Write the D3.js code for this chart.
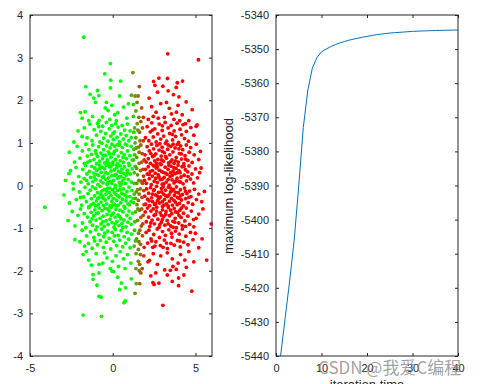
<!DOCTYPE html>
<html>
<head>
<meta charset="utf-8">
<script src="https://cdn.jsdelivr.net/npm/d3@7"></script>
<style>
  body { margin: 0; background: #fff; }
  text { font-family: "Liberation Sans", Arial, sans-serif; }
</style>
</head>
<body>
<script>
"use strict"

/* punti del cluster verde, a coppie x,y */
const greenXY = [
  -1.75,3.48, -0.14,2.86, -0.48,2.62,
  -1.63,2.32, -0.12,2.47, -0.14,2.29, 0.48,2.45, 0.42,2.10, -1.37,2.14, -0.84,2.11, -0.92,2.23, -1.15,2.05,
  -1.04,1.95, -1.67,1.73, -1.95,1.71, -0.45,1.82, -0.28,1.76, -0.62,1.61, -0.18,1.55, 0.12,1.66, -0.82,1.53, -1.22,1.62,
  0.31,1.71, 0.65,1.84, -0.05,1.88, -1.45,1.52, 0.85,1.58, -0.38,1.95, 0.22,1.52, -1.85,1.58, 0.95,1.92,
  -2.35,1.02, -2.1,1.28, -1.72,1.35, -1.55,1.12, -1.38,1.44, -1.25,1.05, -1.12,1.31, -0.98,1.18, -0.91,1.46, -0.78,1.02,
  -0.72,1.27, -0.61,1.39, -0.55,1.11, -0.43,1.22, -0.38,1.48, -0.29,1.04, -0.21,1.33, -0.12,1.16, -0.05,1.41, 0.04,1.08,
  0.11,1.26, 0.18,1.45, 0.26,1.13, 0.33,1.37, 0.41,1.02, 0.49,1.21, 0.57,1.41, 0.64,1.09, 0.72,1.30, 0.81,1.17,
  0.89,1.44, 0.97,1.05, 1.05,1.28, 1.12,1.12, -1.85,1.15, -0.85,1.38, 0.02,1.22,
  -2.62,0.78, -2.31,0.55, -2.15,0.92, -1.98,0.64, -1.84,0.81, -1.71,0.52, -1.62,0.97, -1.53,0.69, -1.44,0.84, -1.36,0.58,
  -1.28,0.73, -1.21,0.95, -1.13,0.61, -1.05,0.82, -0.98,0.51, -0.92,0.68, -0.85,0.91, -0.79,0.57, -0.72,0.76, -0.66,0.99,
  -0.61,0.63, -0.55,0.84, -0.49,0.53, -0.44,0.71, -0.38,0.93, -0.33,0.6, -0.27,0.79, -0.22,0.52, -0.16,0.88, -0.11,0.66,
  -0.05,0.97, 0.01,0.55, 0.06,0.74, 0.12,0.92, 0.17,0.61, 0.23,0.83, 0.29,0.51, 0.34,0.69, 0.4,0.95, 0.46,0.58,
  0.52,0.77, 0.58,0.89, 0.64,0.54, 0.7,0.72, 0.77,0.97, 0.83,0.63, 0.9,0.81, 0.97,0.52, 1.04,0.7, 1.11,0.92,
  1.18,0.6, -0.58,0.7, -0.18,0.74, 0.28,0.96, -1.0,0.75, 0.62,0.66, -0.35,0.55, 0.1,0.8, -1.5,0.55, 0.85,0.95,
  -2.85,0.12, -2.55,0.35, -2.4,0.05, -2.22,0.42, -2.05,0.21, -1.92,0.08, -1.81,0.38, -1.73,0.16, -1.64,0.47, -1.56,0.27,
  -1.48,0.04, -1.41,0.33, -1.34,0.19, -1.27,0.45, -1.2,0.09, -1.14,0.29, -1.08,0.41, -1.02,0.14, -0.96,0.36, -0.9,0.02,
  -0.85,0.24, -0.8,0.48, -0.74,0.11, -0.69,0.31, -0.64,0.43, -0.59,0.06, -0.54,0.22, -0.49,0.39, -0.44,0.15, -0.39,0.47,
  -0.34,0.03, -0.3,0.28, -0.25,0.18, -0.2,0.44, -0.15,0.09, -0.1,0.34, -0.05,0.23, 0.0,0.49, 0.05,0.12, 0.1,0.37,
  0.15,0.01, 0.2,0.26, 0.25,0.42, 0.3,0.17, 0.35,0.33, 0.4,0.07, 0.45,0.46, 0.5,0.21, 0.55,0.38, 0.6,0.11,
  0.66,0.29, 0.71,0.44, 0.77,0.05, 0.82,0.24, 0.88,0.36, 0.94,0.14, 1.0,0.47, 1.06,0.27, 1.12,0.08, 1.18,0.39,
  -0.62,0.19, -0.12,0.44, 0.38,0.2, -0.95,0.26, 0.7,0.16, -0.42,0.3, 0.12,0.24, -1.58,0.12, -0.28,0.07, 0.56,0.04,
  -0.78,0.4, 0.9,0.3, -2.65,0.28, 0.22,0.48, -1.12,0.2, -0.05,0.05, 0.48,0.31,
  -4.1,-0.51, -2.95,-0.22, -2.62,-0.41, -2.38,-0.08, -2.2,-0.33, -2.02,-0.15, -1.88,-0.46, -1.77,-0.27, -1.68,-0.04, -1.59,-0.38,
  -1.5,-0.19, -1.43,-0.49, -1.36,-0.11, -1.29,-0.31, -1.22,-0.03, -1.16,-0.42, -1.1,-0.24, -1.04,-0.07, -0.98,-0.36, -0.92,-0.17,
  -0.87,-0.45, -0.82,-0.28, -0.76,-0.02, -0.71,-0.39, -0.66,-0.13, -0.61,-0.25, -0.56,-0.47, -0.51,-0.09, -0.46,-0.34, -0.41,-0.2,
  -0.36,-0.43, -0.31,-0.06, -0.26,-0.29, -0.21,-0.16, -0.16,-0.48, -0.11,-0.23, -0.06,-0.37, -0.01,-0.1, 0.04,-0.3, 0.09,-0.44,
  0.14,-0.05, 0.19,-0.21, 0.24,-0.35, 0.29,-0.12, 0.34,-0.46, 0.39,-0.27, 0.44,-0.01, 0.49,-0.4, 0.54,-0.18, 0.59,-0.32,
  0.64,-0.08, 0.69,-0.49, 0.74,-0.22, 0.8,-0.36, 0.86,-0.14, 0.92,-0.43, 0.98,-0.04, 1.04,-0.26, 1.1,-0.38, 1.16,-0.12,
  1.22,-0.31, -0.58,-0.3, -0.18,-0.06, 0.3,-0.24, -0.9,-0.3, 0.62,-0.2, -0.38,-0.12, 0.1,-0.16, -1.3,-0.45, -0.02,-0.46,
  0.45,-0.1, -0.72,-0.2, 0.85,-0.27, -1.95,-0.28, 0.2,-0.48, -1.05,-0.48, 1.0,-0.45,
  -2.7,-0.82, -2.45,-0.61, -2.28,-0.95, -2.1,-0.7, -1.95,-0.55, -1.83,-0.88, -1.72,-0.66, -1.62,-0.99, -1.53,-0.74, -1.45,-0.52,
  -1.37,-0.85, -1.3,-0.63, -1.22,-0.93, -1.15,-0.71, -1.08,-0.57, -1.01,-0.81, -0.95,-0.97, -0.88,-0.64, -0.82,-0.53, -0.76,-0.77,
  -0.7,-0.9, -0.64,-0.59, -0.58,-0.72, -0.52,-0.96, -0.46,-0.54, -0.4,-0.83, -0.34,-0.68, -0.28,-0.92, -0.22,-0.6, -0.16,-0.79,
  -0.1,-0.51, -0.04,-0.87, 0.02,-0.65, 0.08,-0.98, 0.14,-0.74, 0.2,-0.56, 0.26,-0.84, 0.32,-0.69, 0.38,-0.94, 0.44,-0.58,
  0.5,-0.78, 0.56,-0.89, 0.62,-0.62, 0.68,-0.81, 0.74,-0.53, 0.8,-0.97, 0.86,-0.7, 0.92,-0.86, 0.98,-0.6, 1.05,-0.77,
  1.12,-0.91, 1.2,-0.65, -0.6,-0.85, -0.1,-0.7, 0.4,-0.72, -1.0,-0.66, 0.6,-0.99, -0.3,-0.55, 0.15,-0.9, -1.25,-0.78,
  -2.29,-1.27, -1.99,-1.32, -1.85,-1.05, -1.7,-1.42, -1.58,-1.18, -1.46,-1.36, -1.35,-1.09, -1.24,-1.47, -1.14,-1.22, -1.03,-1.04,
  -0.93,-1.39, -0.84,-1.15, -0.75,-1.29, -0.66,-1.02, -0.57,-1.45, -0.48,-1.12, -0.39,-1.33, -0.3,-1.07, -0.21,-1.24, -0.12,-1.49,
  -0.03,-1.1, 0.06,-1.31, 0.15,-1.03, 0.24,-1.41, 0.33,-1.17, 0.42,-1.28, 0.51,-1.06, 0.6,-1.44, 0.69,-1.2, 0.78,-1.35,
  0.87,-1.1, 0.96,-1.26, 1.05,-1.46, 1.14,-1.14, -0.55,-1.2, 0.1,-1.18, -1.1,-1.3,
  -1.79,-1.62, -1.29,-1.87, -0.83,-1.85, -0.6,-1.82, -0.35,-1.7, -0.02,-1.78, -1.6,-1.55, -1.0,-1.6, -0.5,-1.58, 0.2,-1.65,
  0.45,-1.55, 0.65,-1.72, 0.9,-1.62, 1.1,-1.82, -0.15,-1.95, 0.35,-1.9, -1.45,-1.75, 0.75,-1.95,
  -1.19,-2.09, -1.19,-2.2, -0.83,-2.05, -0.04,-2.01, 0.06,-2.02, -0.95,-2.34, -0.83,-2.6, -0.7,-2.62, 0.42,-2.44, 0.52,-2.29,
  0.78,-2.4, 1.12,-2.19, 0.76,-2.71, 0.68,-2.75, -1.79,-3.04, -0.68,-3.07, 0.3,-2.15
];

/* punti del cluster rosso, a coppie x,y */
const redXY = [
  3.33,3.09, 5.18,2.95, 2.79,2.52, 3.31,2.51,
  2.47,2.44, 3.84,2.3, 4.22,2.45, 3.9,2.41, 3.03,2.33, 2.71,2.19, 3.67,2.13, 2.2,2.05, 3.35,2.22, 4.0,2.08, 2.55,2.35,
  4.44,1.96, 2.35,1.85, 2.62,1.72, 2.9,1.92, 3.12,1.6, 3.42,1.81, 3.7,1.55, 3.95,1.88, 4.2,1.66, 4.6,1.52,
  2.15,1.55, 2.75,1.58, 3.25,1.95, 3.55,1.68, 4.8,1.78, 2.45,1.62, 3.85,1.72, 4.05,1.52,
  5.04,1.39, 5.1,1.42, 1.98,1.12, 2.08,1.38, 2.18,1.05, 2.27,1.26, 2.36,1.47, 2.45,1.14, 2.54,1.33, 2.63,1.02,
  2.72,1.21, 2.81,1.44, 2.9,1.09, 2.99,1.29, 3.08,1.16, 3.17,1.48, 3.26,1.04, 3.35,1.35, 3.44,1.22, 3.53,1.41,
  3.62,1.07, 3.71,1.28, 3.8,1.15, 3.89,1.46, 3.98,1.01, 4.07,1.32, 4.16,1.19, 4.25,1.43, 4.34,1.1, 4.45,1.27,
  4.58,1.04, 4.72,1.36, 4.9,1.18, 3.0,1.4, 3.6,1.2, 2.4,1.3, 4.4,1.45,
  1.95,0.72, 2.02,0.55, 2.08,0.91, 2.15,0.63, 2.21,0.81, 2.28,0.52, 2.34,0.97, 2.41,0.68, 2.47,0.86, 2.54,0.58,
  2.6,0.74, 2.67,0.94, 2.73,0.61, 2.8,0.83, 2.86,0.51, 2.93,0.69, 2.99,0.9, 3.06,0.57, 3.12,0.77, 3.19,0.99,
  3.25,0.64, 3.32,0.85, 3.38,0.53, 3.45,0.72, 3.51,0.92, 3.58,0.6, 3.64,0.79, 3.71,0.52, 3.77,0.88, 3.84,0.66,
  3.9,0.96, 3.97,0.55, 4.03,0.75, 4.1,0.93, 4.16,0.62, 4.23,0.84, 4.3,0.51, 4.37,0.7, 4.45,0.95, 4.53,0.59,
  4.62,0.78, 4.71,0.89, 4.8,0.54, 4.92,0.72, 5.05,0.97, 5.2,0.61, 5.3,0.8, 2.5,0.7, 3.0,0.8, 3.5,0.56,
  3.2,0.68, 2.85,0.98, 3.8,0.58, 4.0,0.86, 2.3,0.75, 4.4,0.62, 3.65,0.97, 2.65,0.52, 4.15,0.74, 3.35,0.95, 2.95,0.6,
  5.34,0.41, 1.92,0.12, 1.97,0.38, 2.03,0.05, 2.09,0.27, 2.15,0.44, 2.21,0.16, 2.27,0.33, 2.33,0.02, 2.39,0.22,
  2.45,0.47, 2.51,0.1, 2.57,0.29, 2.63,0.41, 2.69,0.07, 2.75,0.25, 2.81,0.36, 2.87,0.14, 2.93,0.49, 2.99,0.03,
  3.05,0.31, 3.11,0.19, 3.17,0.43, 3.23,0.08, 3.29,0.26, 3.35,0.38, 3.41,0.01, 3.47,0.21, 3.53,0.45, 3.59,0.13,
  3.65,0.34, 3.71,0.06, 3.77,0.28, 3.83,0.4, 3.89,0.17, 3.95,0.48, 4.01,0.09, 4.07,0.3, 4.13,0.2, 4.19,0.44,
  4.25,0.04, 4.32,0.24, 4.39,0.37, 4.46,0.11, 4.53,0.32, 4.61,0.46, 4.7,0.15, 4.79,0.27, 4.89,0.06, 5.0,0.39,
  5.12,0.18, 5.25,0.3, 2.4,0.35, 2.8,0.2, 3.2,0.29, 3.6,0.24, 4.0,0.35, 3.0,0.15, 3.4,0.47, 3.8,0.1,
  2.6,0.17, 4.3,0.45, 2.2,0.26, 3.1,0.04, 3.7,0.42, 2.95,0.33, 3.35,0.14, 4.1,0.08, 2.5,0.46, 4.55,0.21,
  3.5,0.3, 2.7,0.44, 3.9,0.3,
  5.54,-0.14, 1.93,-0.25, 1.99,-0.44, 2.05,-0.08, 2.11,-0.32, 2.17,-0.18, 2.23,-0.47, 2.29,-0.05, 2.35,-0.29, 2.41,-0.38,
  2.47,-0.12, 2.53,-0.45, 2.59,-0.22, 2.65,-0.02, 2.71,-0.35, 2.77,-0.16, 2.83,-0.41, 2.89,-0.27, 2.95,-0.07, 3.01,-0.49,
  3.07,-0.2, 3.13,-0.33, 3.19,-0.11, 3.25,-0.43, 3.31,-0.26, 3.37,-0.04, 3.43,-0.37, 3.49,-0.15, 3.55,-0.3, 3.61,-0.46,
  3.67,-0.09, 3.73,-0.23, 3.79,-0.39, 3.85,-0.03, 3.91,-0.28, 3.97,-0.17, 4.03,-0.42, 4.09,-0.1, 4.15,-0.34, 4.21,-0.21,
  4.27,-0.48, 4.34,-0.06, 4.41,-0.31, 4.48,-0.19, 4.56,-0.4, 4.64,-0.13, 4.73,-0.26, 4.83,-0.44, 4.94,-0.09, 5.06,-0.33,
  5.2,-0.2, 5.38,-0.38, 2.4,-0.2, 2.8,-0.3, 3.2,-0.24, 3.6,-0.12, 4.0,-0.3, 3.0,-0.38, 3.4,-0.22, 3.8,-0.16,
  2.6,-0.42, 4.4,-0.14, 2.2,-0.36, 3.1,-0.46, 3.7,-0.35, 2.95,-0.15, 3.35,-0.48, 4.1,-0.24, 2.5,-0.1, 4.6,-0.28,
  3.5,-0.06, 2.7,-0.25, 3.9,-0.45, 3.05,-0.03,
  5.95,-0.9, 5.04,-0.77, 1.96,-0.62, 2.03,-0.85, 2.1,-0.53, 2.17,-0.74, 2.24,-0.96, 2.31,-0.6, 2.38,-0.81, 2.45,-0.55,
  2.52,-0.9, 2.59,-0.68, 2.66,-0.51, 2.73,-0.79, 2.8,-0.98, 2.87,-0.64, 2.94,-0.86, 3.01,-0.57, 3.08,-0.73, 3.15,-0.93,
  3.22,-0.61, 3.29,-0.82, 3.36,-0.52, 3.43,-0.71, 3.5,-0.95, 3.57,-0.66, 3.64,-0.84, 3.71,-0.54, 3.78,-0.77, 3.85,-0.99,
  3.92,-0.63, 3.99,-0.88, 4.06,-0.58, 4.13,-0.75, 4.2,-0.94, 4.28,-0.65, 4.36,-0.83, 4.45,-0.53, 4.54,-0.72, 4.64,-0.91,
  4.75,-0.6, 4.88,-0.8, 5.2,-0.67, 5.45,-0.55, 2.5,-0.7, 3.0,-0.8, 3.5,-0.58, 3.2,-0.68, 2.85,-0.92, 3.8,-0.62,
  4.0,-0.7, 2.3,-0.88, 4.4,-0.96, 3.65,-0.98, 2.65,-0.6, 4.15,-0.53, 3.35,-0.9, 2.95,-0.7, 4.9,-0.97, 3.75,-0.86,
  5.2,-1.46, 2.02,-1.1, 2.11,-1.35, 2.19,-1.05, 2.31,-1.25, 2.42,-1.45, 2.48,-1.15, 2.61,-1.32, 2.69,-1.02, 2.82,-1.22,
  2.88,-1.41, 3.01,-1.08, 3.12,-1.28, 3.18,-1.17, 3.31,-1.48, 3.39,-1.04, 3.52,-1.36, 3.58,-1.21, 3.72,-1.4, 3.79,-1.07,
  3.91,-1.29, 4.02,-1.14, 4.08,-1.44, 4.21,-1.02, 4.29,-1.33, 4.42,-1.19, 4.55,-1.39, 4.7,-1.1, 4.85,-1.27, 5.0,-1.12,
  5.4,-1.25, 3.05,-1.45, 3.55,-1.12, 2.55,-1.42, 4.05,-1.3, 3.25,-1.35, 2.35,-1.3,
  5.68,-1.75, 4.9,-1.79, 4.36,-1.75, 3.48,-1.99, 3.14,-1.98, 3.84,-1.97, 3.64,-1.9, 3.6,-1.72, 2.13,-1.79, 2.22,-1.76,
  2.45,-1.6, 2.9,-1.65, 3.3,-1.58, 4.1,-1.62, 4.6,-1.55, 2.7,-1.85, 3.95,-1.82, 4.45,-1.92,
  4.78,-2.48, 3.03,-2.81, 3.98,-2.35, 3.98,-2.17, 2.43,-2.28, 2.79,-2.29, 2.5,-2.32, 3.3,-2.1, 2.6,-2.05, 4.3,-2.1,
  3.6,-2.25, 2.3,-2.12
];

/* punti di confine: x, y, peso del rosso (0 = verde, 1 = rosso) */
const mixXYW = [
  1.22,2.65,0.45, 1.61,2.32,0.7, 1.53,2.1,0.6, 1.13,2.12,0.3, 1.35,2.1,0.45, 1.47,1.95,0.5, 1.35,-2.53,0.4, 1.63,-2.3,0.6,
  1.25,1.62,0.2, 1.32,1.35,0.3, 1.4,1.12,0.35, 1.28,0.85,0.25, 1.45,0.66,0.4, 1.55,0.9,0.5, 1.62,1.25,0.55, 1.7,1.5,0.65,
  1.78,0.75,0.7, 1.85,1.05,0.8, 1.36,0.45,0.3, 1.5,0.25,0.45, 1.6,0.52,0.55, 1.72,0.1,0.65, 1.82,0.38,0.75, 1.3,0.05,0.25,
  1.42,-0.15,0.35, 1.55,-0.35,0.5, 1.66,-0.08,0.6, 1.77,-0.28,0.7, 1.88,-0.12,0.8, 1.27,-0.4,0.2, 1.38,-0.62,0.3, 1.5,-0.82,0.45,
  1.62,-0.58,0.55, 1.73,-0.95,0.65, 1.84,-0.7,0.75, 1.32,-1.05,0.25, 1.44,-1.25,0.4, 1.56,-1.12,0.5, 1.68,-1.38,0.6, 1.8,-1.18,0.72,
  1.3,-1.42,0.25, 1.41,-1.6,0.35, 1.55,-1.78,0.5, 1.67,-1.62,0.6, 1.78,-1.95,0.7, 1.6,-2.0,0.55, 1.7,-2.05,0.65, 1.25,1.9,0.2,
  1.4,1.75,0.35, 1.58,1.6,0.5, 1.75,1.82,0.65, 1.48,1.45,0.42, 1.26,0.6,0.22, 1.9,0.6,0.85, 1.9,-0.45,0.85, 1.9,-1.45,0.85,
  1.45,0.05,0.4, 1.6,0.78,0.55, 1.38,-0.3,0.3, 1.52,-0.55,0.45, 1.68,0.35,0.6, 1.35,1.0,0.28, 1.8,1.35,0.72, 1.42,-2.3,0.35,
  1.63,-1.85,0.58, 1.3,0.3,0.25, 1.47,-0.45,0.42, 1.58,0.12,0.52, 1.75,-0.55,0.68, 1.86,0.22,0.78, 1.34,-0.85,0.28, 1.52,1.3,0.47,
  1.7,0.95,0.62, 1.4,-1.95,0.33, 1.64,-1.05,0.57, 1.82,-0.9,0.74, 1.28,1.25,0.22, 1.45,0.4,0.4, 1.6,-0.2,0.54, 1.76,0.55,0.68,
  1.37,-1.3,0.3, 1.55,-1.5,0.48, 1.88,-1.65,0.8, 1.33,0.72,0.27, 1.5,-0.1,0.45, 1.7,-0.75,0.63, 1.85,1.6,0.8, 1.42,0.88,0.37,
  1.58,-1.32,0.52, 1.8,0.05,0.72, 1.3,-0.2,0.25, 1.65,1.05,0.58
];

/* massima log-verosimiglianza per iterazione (1..40) */
const iterazioni = d3.range(1, 41);
const logVer = [
  -5440, -5429, -5418, -5406, -5390, -5373, -5362, -5355.5, -5352.5, -5350.8,
  -5350.0, -5349.3, -5348.7, -5348.2, -5347.8, -5347.4, -5347.1, -5346.8, -5346.5, -5346.3,
  -5346.0, -5345.8, -5345.6, -5345.45, -5345.3, -5345.2, -5345.1, -5345.0, -5344.9, -5344.8,
  -5344.75, -5344.7, -5344.65, -5344.6, -5344.55, -5344.5, -5344.48, -5344.45, -5344.42, -5344.4
];

const tickSx = [-5, 0, 5];
const tickSy = [-4, -3, -2, -1, 0, 1, 2, 3, 4];
const tickDx = [0, 10, 20, 30, 40];
const tickDy = [-5440, -5430, -5420, -5410, -5400, -5390, -5380, -5370, -5360, -5350, -5340];

const verde = "#00ff00", rosso = "#ff0000";
const scuro = "#262626";
const raggio = 1.9;

function aCoppie(arr, passo) {
    const out = [];
    for (let i = 0; i < arr.length; i += passo) out.push(arr.slice(i, i + passo));
    return out;
}

const svg = d3.select("body").append("svg")
    .attr("width", 491).attr("height", 384);

/* scale */
const sx = d3.scaleLinear().domain([-5, 6]).range([30, 212]);
const sy = d3.scaleLinear().domain([-4, 4]).range([356, 15]);
const dx = d3.scaleLinear().domain([0, 40]).range([276, 458]);
const dy = d3.scaleLinear().domain([-5440, -5340]).range([356, 15]);

/* etichette con il trattino semplice, senza separatori delle migliaia */
const fmt = d => String(d);

/* disegna assi con riquadro e tacche interne, come in MATLAB */
function assi(xs, ys, xt, yt) {
    const [x0, x1] = xs.range(), [y0, y1] = ys.range();
    const g = svg.append("g");
    const stile = function (sel) {
        sel.select(".domain").remove();
        sel.selectAll("line").attr("stroke", scuro);
        sel.selectAll("text").attr("fill", scuro).attr("font-size", 11);
    };
    g.append("g").attr("transform", `translate(0,${y0})`)
        .call(d3.axisBottom(xs).tickValues(xt).tickSize(-3).tickPadding(8).tickFormat(fmt)).call(stile);
    g.append("g").attr("transform", `translate(0,${y1})`)
        .call(d3.axisTop(xs).tickValues(xt).tickSize(-3).tickFormat("")).call(stile);
    g.append("g").attr("transform", `translate(${x0},0)`)
        .call(d3.axisLeft(ys).tickValues(yt).tickSize(-3).tickPadding(7).tickFormat(fmt)).call(stile);
    g.append("g").attr("transform", `translate(${x1},0)`)
        .call(d3.axisRight(ys).tickValues(yt).tickSize(-3).tickFormat("")).call(stile);
    g.selectAll("text").style("font-family", "'Liberation Sans', Arial, sans-serif");
    g.append("rect").attr("x", x0).attr("y", y1)
        .attr("width", x1 - x0).attr("height", y0 - y1)
        .attr("fill", "none").attr("stroke", scuro).attr("stroke-width", 1);
}

/* grafico a dispersione */
const punti = svg.append("g");
const colMix = d3.interpolateRgb(verde, rosso);
punti.selectAll("circle.v").data(aCoppie(greenXY, 2)).enter().append("circle")
    .attr("cx", d => sx(d[0])).attr("cy", d => sy(d[1])).attr("r", raggio).attr("fill", verde);
punti.selectAll("circle.r").data(aCoppie(redXY, 2)).enter().append("circle")
    .attr("cx", d => sx(d[0])).attr("cy", d => sy(d[1])).attr("r", raggio).attr("fill", rosso);
punti.selectAll("circle.m").data(aCoppie(mixXYW, 3)).enter().append("circle")
    .attr("cx", d => sx(d[0])).attr("cy", d => sy(d[1])).attr("r", raggio).attr("fill", d => colMix(d[2]));

assi(sx, sy, tickSx, tickSy);

/* curva della log-verosimiglianza */
const linea = d3.line().x((d, i) => dx(iterazioni[i])).y(d => dy(d));
svg.append("path").datum(logVer)
    .attr("d", linea).attr("fill", "none")
    .attr("stroke", "#0072bd").attr("stroke-width", 1);

assi(dx, dy, tickDx, tickDy);

svg.append("text")
    .attr("transform", "translate(233,186) rotate(-90)")
    .attr("text-anchor", "middle").attr("font-size", 13).attr("fill", scuro)
    .text("maximum log-likelihood");

svg.append("text")
    .attr("x", 367).attr("y", 389)
    .attr("text-anchor", "middle").attr("font-size", 13).attr("fill", scuro)
    .text("iteration time");

/* filigrana */
svg.append("text")
    .attr("x", 318).attr("y", 374)
    .attr("font-size", 17).attr("fill", "rgba(130,130,130,0.75)")
    .style("font-family", "'Noto Sans CJK SC', 'Liberation Sans', sans-serif")
    .text("CSDN @我爱C编程");
</script>
</body>
</html>
